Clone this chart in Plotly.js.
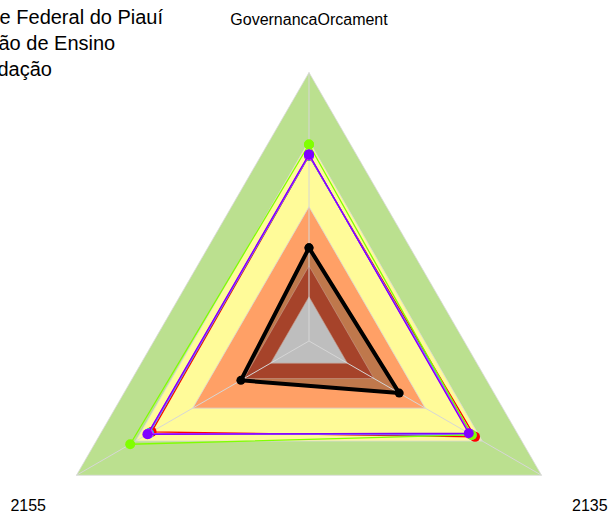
<!DOCTYPE html>
<html>
<head>
<meta charset="utf-8">
<script src="https://cdn.plot.ly/plotly-3.0.1.min.js"></script>
<style>
  html, body { margin: 0; padding: 0; background: #fff; }
  #wrap { position: relative; width: 611px; height: 516px; overflow: hidden; }
  #plot { position: absolute; left: -120px; top: 0; width: 739px; height: 651px; }
</style>
</head>
<body>
<div id="wrap"><div id="plot"></div></div>
<script>
// ---- data ----
const categories = ['GovernancaOrcament', '2135', '2155'];
const titleLines = ['Universidade Federal do Piauí', 'Administração de Ensino', 'Esfera: Fundação'];

// background reference bands (outer to inner)
const bandLevels = [1.0, 0.745, 0.5, 0.28, 0.165];
const bandColors = ['#BBE08F', '#FFFB99', '#FFA066', '#A6432A', '#BEBEBE'];

// series values in category order [GovernancaOrcament, 2135, 2155]
const serieVermelha = [0.690, 0.714, 0.677];
const serieAzul     = [0.692, 0.696, 0.690];
const serieCiano    = [0.691, 0.700, 0.688];
const serieMagenta  = [0.693, 0.692, 0.692];
const serieVerde    = [0.732, 0.700, 0.769];
const serieRoxa     = [0.695, 0.687, 0.695];
const seriePreta    = [0.347, 0.388, 0.293];

const coloredSeries = [
  {v: serieVermelha, c: '#FF0000'},
  {v: serieAzul,     c: '#0080FF'},
  {v: serieCiano,    c: '#00D0FF'},
  {v: serieMagenta,  c: '#FF00FF'},
  {v: serieVerde,    c: '#80FF00'},
  {v: serieRoxa,     c: '#8000FF'}
];

const close = a => a.concat([a[0]]);
const thetaC = close(categories);
const rMax = 290 / 268.5;

const traces = [];
// bands: green, yellow, orange
for (let i = 0; i < 3; i++) {
  traces.push({type: 'scatterpolar', mode: 'lines', theta: thetaC,
    r: close(categories.map(() => bandLevels[i])),
    fill: 'toself', fillcolor: bandColors[i],
    line: {color: '#D9D9D9', width: 0.8}, hoverinfo: 'skip'});
}
// shaded area of the black series (under the inner bands)
traces.push({type: 'scatterpolar', mode: 'lines', theta: thetaC, r: close(seriePreta),
  fill: 'toself', fillcolor: 'rgba(0,0,0,0.25)', line: {width: 0}, hoverinfo: 'skip'});
// inner bands: brown, gray
for (let i = 3; i < 5; i++) {
  traces.push({type: 'scatterpolar', mode: 'lines', theta: thetaC,
    r: close(categories.map(() => bandLevels[i])),
    fill: 'toself', fillcolor: bandColors[i],
    line: {color: '#C8A090', width: 0.6}, hoverinfo: 'skip'});
}
// spokes
categories.forEach(cat => {
  traces.push({type: 'scatterpolar', mode: 'lines', theta: [cat, cat], r: [0, bandLevels[0]],
    line: {color: '#D6D6D6', width: 1}, hoverinfo: 'skip'});
});
// colored series
coloredSeries.forEach(s => {
  traces.push({type: 'scatterpolar', mode: 'lines+markers', theta: thetaC, r: close(s.v),
    line: {color: s.c, width: 1.3}, marker: {color: s.c, size: 10},
    hoverinfo: 'skip', cliponaxis: false});
});
// black series
traces.push({type: 'scatterpolar', mode: 'lines+markers', theta: thetaC, r: close(seriePreta),
  line: {color: '#000000', width: 4}, marker: {color: '#000000', size: 9},
  hoverinfo: 'skip', cliponaxis: false});
// second (label-only) polar subplot carrying the two lower axis labels
traces.push({type: 'scatterpolar', subplot: 'polar2', mode: 'lines', theta: thetaC, r: close(seriePreta),
  line: {width: 0, color: 'rgba(0,0,0,0)'}, opacity: 0, hoverinfo: 'skip'});

const labelFont = {size: 16, family: 'Liberation Sans, Arial, sans-serif', color: '#000000'};
const baseAngular = {
  type: 'category', direction: 'clockwise', rotation: 90,
  categoryorder: 'array', categoryarray: categories,
  showgrid: false, showline: false,
  ticks: 'outside', tickcolor: 'rgba(0,0,0,0)',
  tickmode: 'array', tickvals: categories,
  tickfont: labelFont
};
const baseRadial = {range: [0, rMax], visible: false, showgrid: false, showline: false, showticklabels: false};

const layout = {
  width: 739, height: 651,
  margin: {l: 139, r: 20, t: 51, b: 0},
  paper_bgcolor: '#FFFFFF',
  showlegend: false,
  hovermode: false,
  font: {family: 'Liberation Sans, Arial, sans-serif', color: '#000000'},
  title: {
    text: titleLines.join('<br>'),
    font: {size: 20, family: 'Liberation Sans, Arial, sans-serif', color: '#000000'},
    xref: 'container', x: 14 / 739, xanchor: 'left',
    yref: 'container', y: 1 - 24 / 651, yanchor: 'top'
  },
  polar: {
    domain: {x: [0, 1], y: [20 / 600, 1]},
    bgcolor: 'rgba(0,0,0,0)',
    gridshape: 'linear',
    radialaxis: baseRadial,
    angularaxis: Object.assign({}, baseAngular, {
      ticklen: 19,
      ticktext: categories.map((c, i) => i === 0 ? c : '')
    })
  },
  polar2: {
    domain: {x: [0, 1], y: [15 / 600, 595 / 600]},
    bgcolor: 'rgba(0,0,0,0)',
    gridshape: 'linear',
    radialaxis: baseRadial,
    angularaxis: Object.assign({}, baseAngular, {
      ticklen: 10,
      ticktext: categories.map((c, i) => i === 0 ? '' : c)
    })
  }
};

Plotly.newPlot('plot', traces, layout, {displayModeBar: false, staticPlot: true});
</script>
</body>
</html>
